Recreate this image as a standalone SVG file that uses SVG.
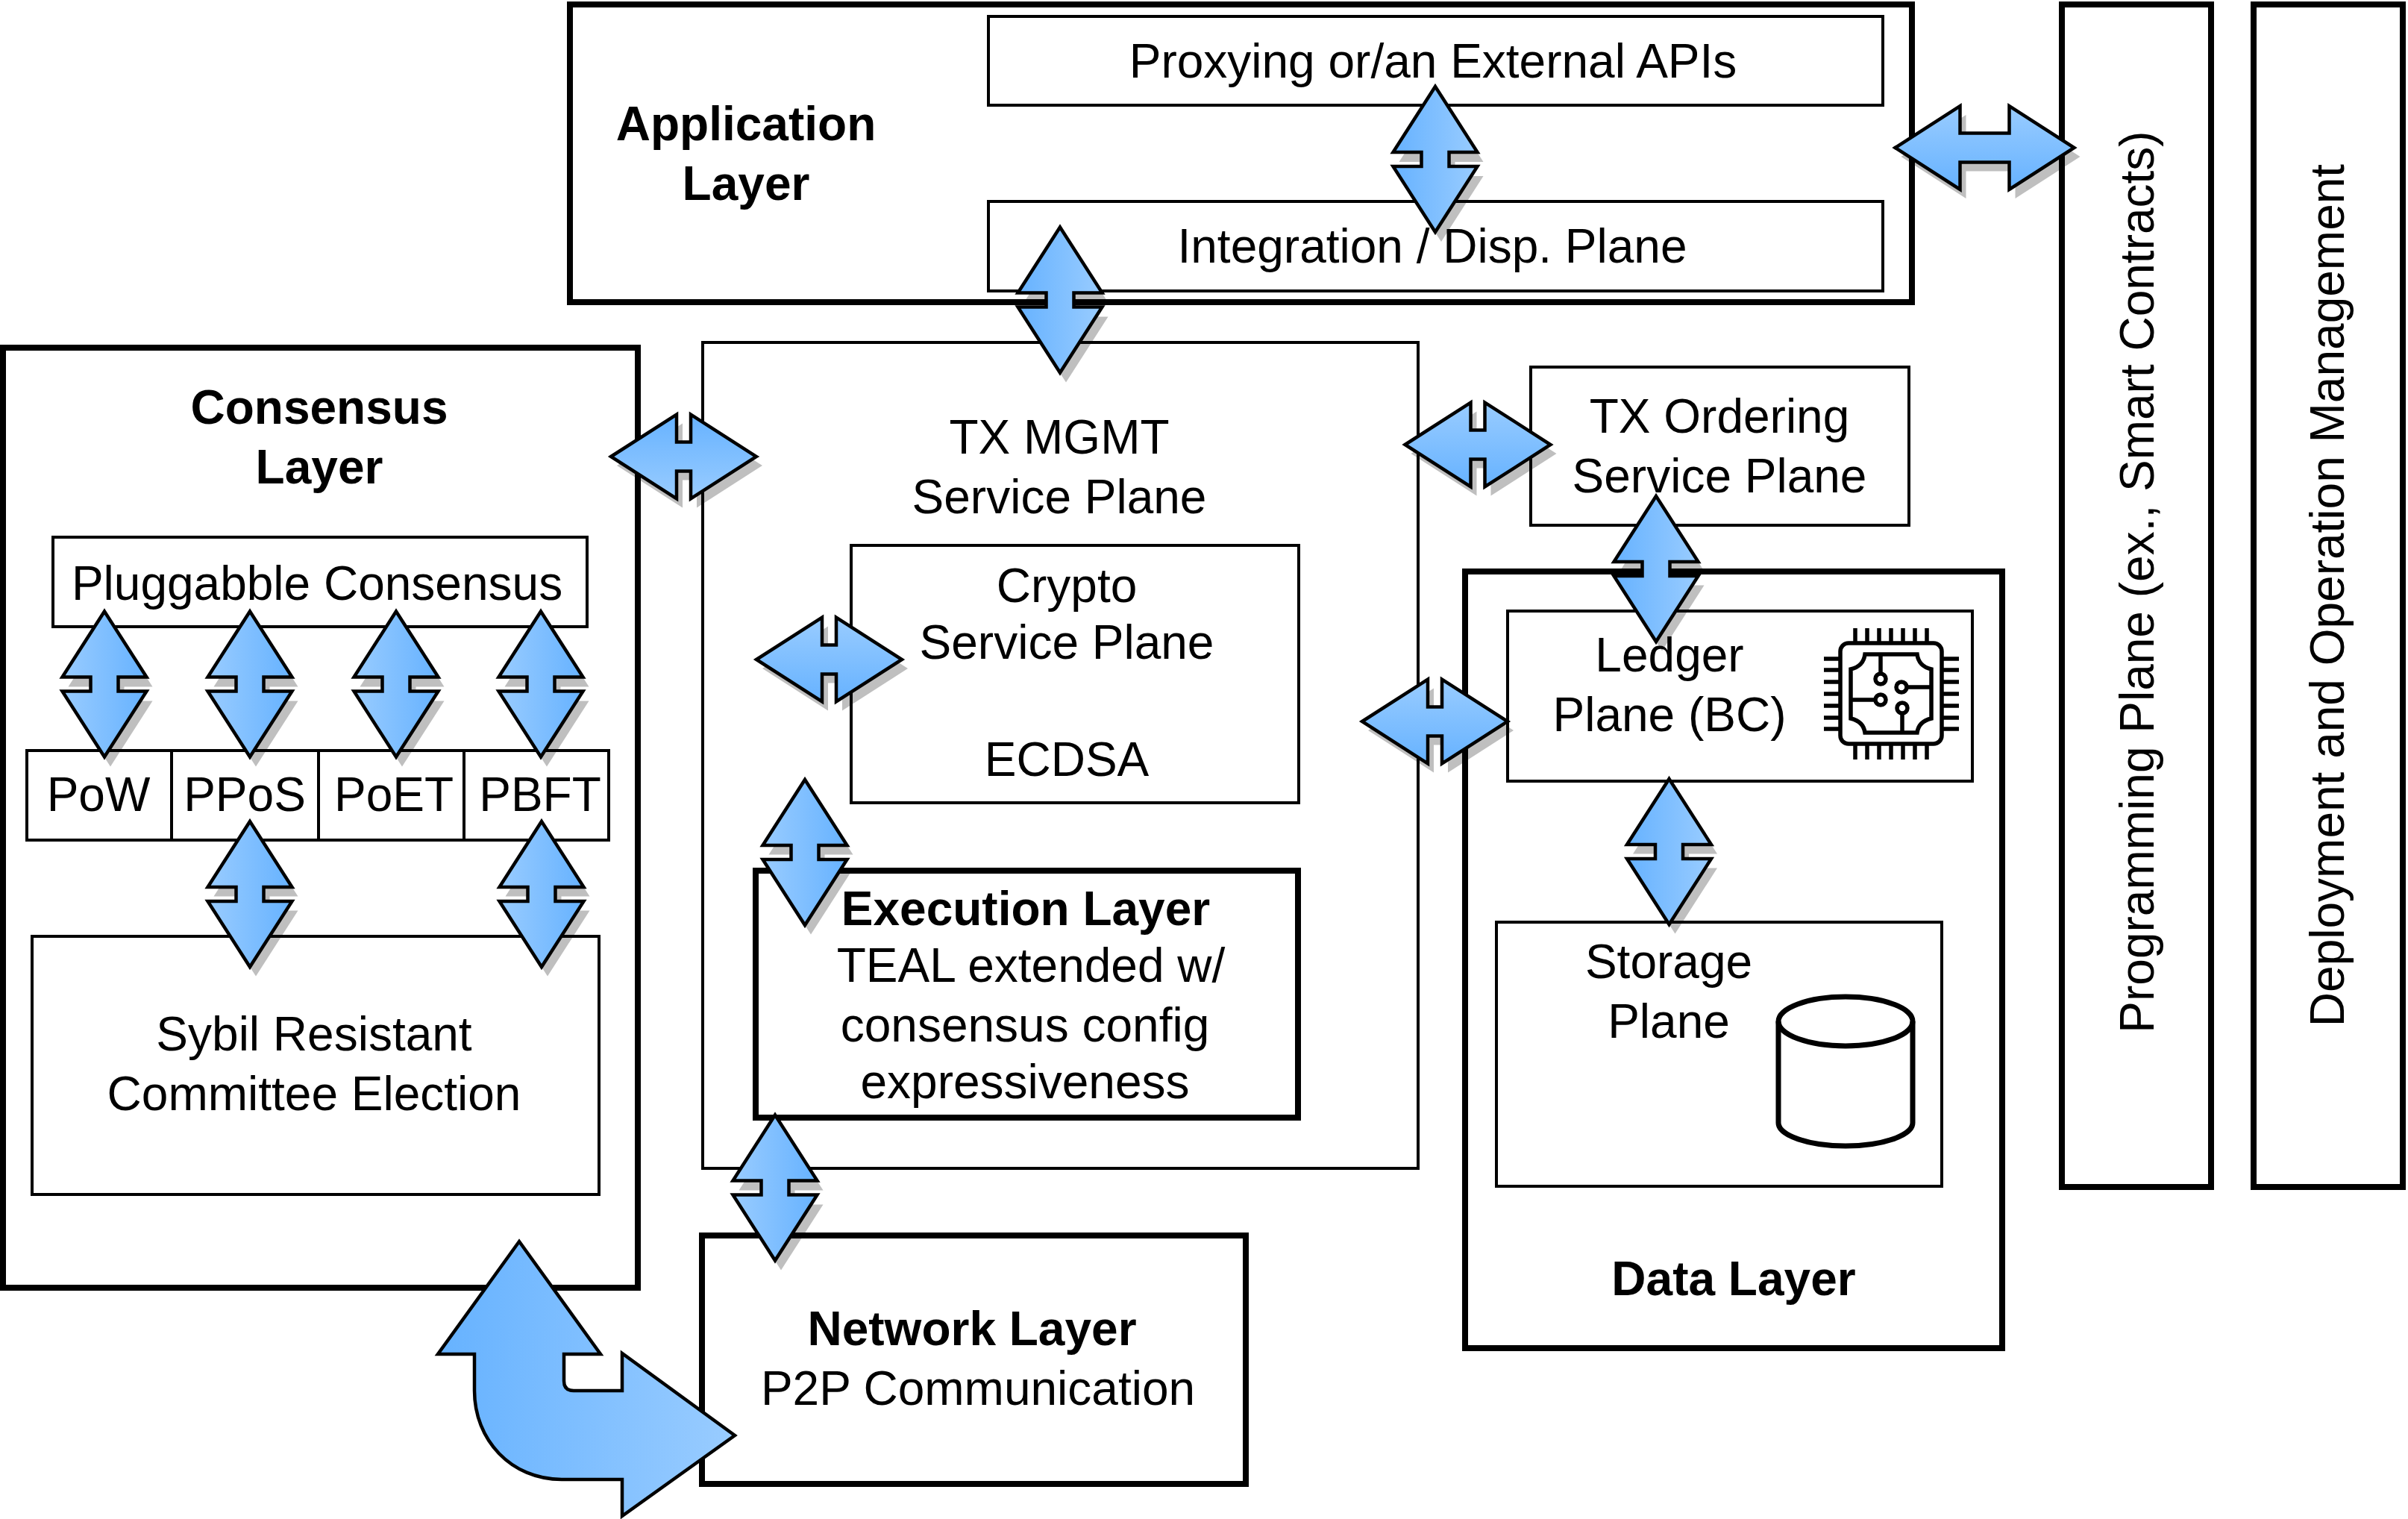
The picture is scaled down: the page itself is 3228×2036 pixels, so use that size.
<svg xmlns="http://www.w3.org/2000/svg" width="3228" height="2036" viewBox="0 0 3228 2036">
<defs>
<linearGradient id="g1" x1="0" x2="1" y1="0" y2="0"><stop offset="0" stop-color="#66b2ff"/><stop offset="1" stop-color="#99ccff"/></linearGradient>
<linearGradient id="g2" x1="0" x2="1" y1="0" y2="0"><stop offset="0" stop-color="#99ccff"/><stop offset="1" stop-color="#66b2ff"/></linearGradient>
<linearGradient id="g3" x1="0" x2="0" y1="0" y2="1"><stop offset="0" stop-color="#99ccff"/><stop offset="1" stop-color="#66b2ff"/></linearGradient>
<linearGradient id="g4" x1="0" x2="0" y1="0" y2="1"><stop offset="0" stop-color="#66b2ff"/><stop offset="1" stop-color="#99ccff"/></linearGradient>
<path id="v" d="M0-97.500L56.500-9.500H18.500V9.500H56.500L0 97.500L-56.500 9.500H-18.500V-9.500H-56.500Z"/>
<path id="h" d="M-97.500 0L-9.500-56.500V-19.500H9.500V-56.500L97.500 0L9.500 56.500V19.500H-9.500V56.500Z"/>
<path id="hl" d="M-120 0L-33-56V-19.500H33V-56L120 0L33 56V19.500H-33V56Z"/>
</defs>
<style>
text{font-family:"Liberation Sans",Arial,sans-serif;font-size:64px;fill:#000;text-anchor:middle}
.b{font-weight:700}
.r{fill:none;stroke:#000;stroke-width:4}
.t{fill:none;stroke:#000;stroke-width:8}
.s{fill:#bfbfbf;stroke:none}
.a1,.a2,.a3,.a4{stroke:#000;stroke-width:4.500;stroke-miterlimit:10}
.a1{fill:url(#g1)}
.a2{fill:url(#g2)}
.a3{fill:url(#g3)}
.a4{fill:url(#g4)}
.i{fill:none;stroke:#000;stroke-width:5.500}
</style>
<rect width="3228" height="2036" fill="#fff"/>
<g id="shadows">
<use href="#v" class="s" x="1932" y="226.500"/>
<use href="#v" class="s" x="1429" y="415"/>
<use href="#hl" class="s" x="2668.500" y="210"/>
<use href="#h" class="s" x="924.500" y="624"/>
<use href="#h" class="s" x="1989" y="608"/>
<use href="#h" class="s" x="1119.500" y="896"/>
<use href="#h" class="s" x="1931.500" y="979"/>
<use href="#v" class="s" x="2228" y="775"/>
<use href="#v" class="s" x="2245.500" y="1154"/>
<use href="#v" class="s" x="1087" y="1155"/>
<use href="#v" class="s" x="1047" y="1605"/>
<use href="#v" class="s" x="148" y="930"/>
<use href="#v" class="s" x="343" y="930"/>
<use href="#v" class="s" x="539" y="930"/>
<use href="#v" class="s" x="733" y="930"/>
<use href="#v" class="s" x="343" y="1211"/>
<use href="#v" class="s" x="734" y="1211"/>
</g>
<g id="app"><rect class="t" x="764" y="6" width="1799" height="399"/><text class="b" x="1000" y="188">Application</text><text class="b" x="1000" y="268">Layer</text></g>
<g id="proxy"><rect class="r" x="1325" y="22" width="1199" height="119"/><text x="1921" y="104">Proxying or/an External APIs</text></g>
<g id="integration"><rect class="r" x="1325" y="270" width="1199" height="120"/><text x="1920" y="352">Integration / Disp. Plane</text></g>
<g id="consensus"><rect class="t" x="4" y="466" width="851" height="1260"/><text class="b" x="428" y="568">Consensus</text><text class="b" x="428" y="648">Layer</text></g>
<g id="pluggable"><rect class="r" x="71" y="720" width="716" height="120"/><text x="425" y="804">Pluggabble Consensus</text></g>
<g id="pow"><rect class="r" x="36" y="1006" width="194" height="120"/><text x="132" y="1087">PoW</text></g>
<g id="ppos"><rect class="r" x="230" y="1006" width="197" height="120"/><text x="328" y="1087">PPoS</text></g>
<g id="poet"><rect class="r" x="427" y="1006" width="195" height="120"/><text x="528" y="1087">PoET</text></g>
<g id="pbft"><rect class="r" x="622" y="1006" width="194" height="120"/><text x="724" y="1087">PBFT</text></g>
<g id="sybil"><rect class="r" x="43" y="1255" width="760" height="346"/><text x="421" y="1408">Sybil Resistant</text><text x="421" y="1488">Committee Election</text></g>
<g id="txmgmt"><rect class="r" x="942" y="459" width="959" height="1107"/><text x="1420" y="608">TX MGMT</text><text x="1420" y="688">Service Plane</text></g>
<g id="crypto"><rect class="r" x="1141" y="731" width="600" height="345"/><text x="1430" y="807">Crypto</text><text x="1430" y="883">Service Plane</text><text x="1430" y="1040">ECDSA</text></g>
<g id="execution"><rect class="t" x="1013" y="1167" width="727" height="331"/><text class="b" x="1375" y="1240">Execution Layer</text><text x="1382" y="1316">TEAL extended w/</text><text x="1374" y="1396">consensus config</text><text x="1374" y="1472">expressiveness</text></g>
<g id="network"><rect class="t" x="941" y="1656" width="729" height="333"/><text class="b" x="1303" y="1803">Network Layer</text><text x="1311" y="1883">P2P Communication</text></g>
<g id="ordering"><rect class="r" x="2052" y="492" width="507" height="212"/><text x="2305" y="580">TX Ordering</text><text x="2305" y="660">Service Plane</text></g>
<g id="data"><rect class="t" x="1964" y="766" width="720" height="1041"/><text class="b" x="2324" y="1736">Data Layer</text></g>
<g id="ledger"><rect class="r" x="2021" y="819" width="623" height="228"/><text x="2238" y="900">Ledger</text><text x="2238" y="980">Plane (BC)</text>
<g class="i" id="chip"><rect x="2467" y="862" width="136" height="135" rx="11"/><path d="M2487 842V862M2503 842V862M2519 842V862M2535 842V862M2551 842V862M2567 842V862M2583 842V862M2487 997V1018M2503 997V1018M2519 997V1018M2535 997V1018M2551 997V1018M2567 997V1018M2583 997V1018M2445 883H2467M2445 898H2467M2445 914H2467M2445 930H2467M2445 946H2467M2445 962H2467M2445 977H2467M2603 883H2626M2603 898H2626M2603 914H2626M2603 930H2626M2603 946H2626M2603 962H2626M2603 977H2626"/><path d="M2500 877H2570Q2572 893 2589 897V963Q2572 967 2570 982H2500Q2498 967 2481 963V897Q2498 893 2500 877ZM2521 877V903M2481 938H2514M2556 921H2589M2550 957V982"/><circle cx="2521" cy="910" r="7"/><circle cx="2521" cy="938" r="7"/><circle cx="2549" cy="921" r="7"/><circle cx="2550" cy="949" r="7"/></g></g>
<g id="storage"><rect class="r" x="2006" y="1236" width="597" height="354"/><text x="2237" y="1311">Storage</text><text x="2237" y="1391">Plane</text>
<g id="cyl" fill="none" stroke="#000" stroke-width="7"><ellipse cx="2474" cy="1369" rx="90" ry="33"/><path d="M2384 1369V1505C2384 1522 2425 1536 2474 1536S2564 1522 2564 1505V1369"/></g></g>
<g id="programming"><rect class="t" x="2764" y="6" width="200" height="1585"/><text transform="translate(2887 780) rotate(-90)">Programming Plane (ex., Smart Contracts)</text></g>
<g id="deployment"><rect class="t" x="3021" y="6" width="200" height="1585"/><text transform="translate(3142 798) rotate(-90)">Deployment and Operation Management</text></g>
<g id="connectors">
<use href="#v" class="a1" x="1924" y="213.500"/>
<use href="#v" class="a1" x="1421" y="402"/>
<use href="#hl" class="a3" x="2660.500" y="198"/>
<use href="#h" class="a4" x="916.500" y="612"/>
<use href="#h" class="a3" x="1981" y="596"/>
<use href="#h" class="a3" x="1111.500" y="884"/>
<use href="#h" class="a3" x="1923.500" y="967"/>
<use href="#v" class="a1" x="2220" y="762.500"/>
<use href="#v" class="a1" x="2237.500" y="1141.500"/>
<use href="#v" class="a2" x="1079" y="1142.500"/>
<use href="#v" class="a2" x="1039" y="1592"/>
<use href="#v" class="a2" x="140" y="917"/>
<use href="#v" class="a2" x="335" y="917"/>
<use href="#v" class="a2" x="531" y="917"/>
<use href="#v" class="a2" x="725" y="917"/>
<use href="#v" class="a2" x="335" y="1198.500"/>
<use href="#v" class="a2" x="726" y="1198.500"/>
<path class="a1" d="M696 1664L805 1815H756V1851Q756 1864 769 1864H834V1814L985 1924L834 2032V1983H753C685 1983 636 1930 636 1864V1815H587Z"/>
</g>
</svg>
